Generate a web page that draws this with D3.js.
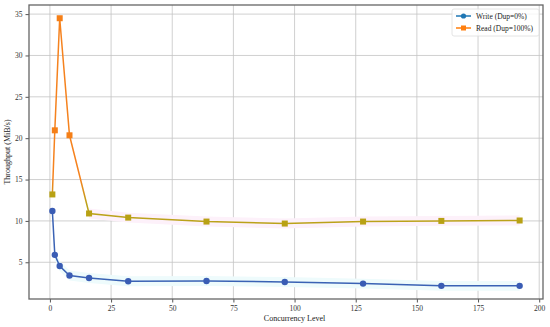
<!DOCTYPE html>
<html>
<head>
<meta charset="utf-8">
<script src="https://cdn.jsdelivr.net/npm/d3@7"></script>
<style>
  body { margin: 0; background: #fff; }
  svg { font-family: "Liberation Serif", "DejaVu Serif", serif; }
</style>
</head>
<body>
<svg id="chart" width="550" height="327"></svg>
<script>
// data
const concurrency = [1, 2, 4, 8, 16, 32, 64, 96, 128, 160, 192];
const writeValues = [11.2, 5.9, 4.55, 3.4, 3.1, 2.7, 2.73, 2.62, 2.42, 2.15, 2.15];
const readValues = [13.2, 20.95, 34.5, 20.35, 10.9, 10.4, 9.92, 9.68, 9.92, 10.0, 10.05];
const xTicks = [0, 25, 50, 75, 100, 125, 150, 175, 200];
const yTicks = [5, 10, 15, 20, 25, 30, 35];
const seriesNames = ['Write (Dup=0%)', 'Read (Dup=100%)'];

const svg = d3.select('#chart');
const margin = { top: 5, right: 7, bottom: 28, left: 29 };
const width = 550, height = 327;

const x = d3.scaleLinear().domain([-8.55, 201.55]).range([margin.left, width - margin.right]);
const y = d3.scaleLinear().domain([0.56, 36.1]).range([height - margin.bottom, margin.top]);

// grid
svg.append('g').selectAll('line').data(xTicks).enter().append('line')
    .attr('x1', d => x(d)).attr('x2', d => x(d))
    .attr('y1', margin.top).attr('y2', height - margin.bottom)
    .attr('stroke', '#c4c4c4').attr('stroke-width', 0.8);
svg.append('g').selectAll('line').data(yTicks).enter().append('line')
    .attr('y1', d => y(d)).attr('y2', d => y(d))
    .attr('x1', margin.left).attr('x2', width - margin.right)
    .attr('stroke', '#c4c4c4').attr('stroke-width', 0.8);

const writeData = concurrency.map((c, i) => ({ x: c, v: writeValues[i] }));
const readData = concurrency.map((c, i) => ({ x: c, v: readValues[i] }));

// faint bands behind the lines (only the flat tails)
const band = d3.area().x(d => x(d.x)).y0(d => y(d.v - 0.6)).y1(d => y(d.v + 0.6));
svg.append('path').datum(readData.slice(4)).attr('d', band).attr('fill', '#fdf1fa');
svg.append('path').datum(writeData.slice(1)).attr('d', band).attr('fill', '#eefbfc');

// read line colour shifts from orange (high) to olive (low)
const defs = svg.append('defs');
const grad = defs.append('linearGradient').attr('id', 'readGrad')
    .attr('gradientUnits', 'userSpaceOnUse')
    .attr('x1', 0).attr('x2', 0).attr('y1', y(15)).attr('y2', y(12));
grad.append('stop').attr('offset', 0).attr('stop-color', '#f5821e');
grad.append('stop').attr('offset', 1).attr('stop-color', '#bba21a');

const line = d3.line().x(d => x(d.x)).y(d => y(d.v));

svg.append('path').datum(writeData).attr('d', line)
    .attr('fill', 'none').attr('stroke', '#3a62b4').attr('stroke-width', 1.5);
svg.append('path').datum(readData).attr('d', line)
    .attr('fill', 'none').attr('stroke', 'url(#readGrad)').attr('stroke-width', 1.5);

svg.append('g').selectAll('circle').data(writeData).enter().append('circle')
    .attr('cx', d => x(d.x)).attr('cy', d => y(d.v)).attr('r', 3.2)
    .attr('fill', '#3a5cb4');
svg.append('g').selectAll('rect').data(readData).enter().append('rect')
    .attr('x', d => x(d.x) - 3).attr('y', d => y(d.v) - 3)
    .attr('width', 6).attr('height', 6)
    .attr('fill', d => d.v > 15 ? '#f57f17' : '#b8a114');

// axes
const xAxis = svg.append('g')
    .attr('transform', `translate(0,${height - margin.bottom})`)
    .call(d3.axisBottom(x).tickValues(xTicks).tickSize(3.5).tickPadding(3));
const yAxis = svg.append('g')
    .attr('transform', `translate(${margin.left},0)`)
    .call(d3.axisLeft(y).tickValues(yTicks).tickSize(3.5).tickPadding(3));
[xAxis, yAxis].forEach(a => {
    a.select('.domain').remove();
    a.selectAll('text').style('font-size', '7.5px').attr('fill', '#333')
        .style('font-family', '"Liberation Serif", serif');
    a.selectAll('line').attr('stroke', '#555');
});

// frame
svg.append('rect')
    .attr('x', margin.left).attr('y', margin.top)
    .attr('width', width - margin.left - margin.right)
    .attr('height', height - margin.top - margin.bottom)
    .attr('fill', 'none').attr('stroke', '#666').attr('stroke-width', 1.3);

// labels
svg.append('text')
    .attr('x', x(100)).attr('y', 321)
    .attr('text-anchor', 'middle')
    .style('font-size', '8px').attr('fill', '#222')
    .text('Concurrency Level');
svg.append('text')
    .attr('transform', `translate(10,${(margin.top + height - margin.bottom) / 2}) rotate(-90)`)
    .attr('text-anchor', 'middle')
    .style('font-size', '8px').attr('fill', '#222')
    .text('Throughput (MiB/s)');

// legend
const legend = svg.append('g').attr('transform', 'translate(452,9)');
legend.append('rect')
    .attr('width', 87).attr('height', 27).attr('rx', 2)
    .attr('fill', '#fff').attr('fill-opacity', 0.8)
    .attr('stroke', '#ddd').attr('stroke-width', 0.8);
const legendColors = ['#1f77b4', '#ff7f0e'];
seriesNames.forEach((name, i) => {
    const g = legend.append('g').attr('transform', `translate(0,${7 + i * 12})`);
    g.append('line').attr('x1', 4).attr('x2', 19).attr('stroke', legendColors[i]).attr('stroke-width', 1.5);
    if (i === 0) {
        g.append('circle').attr('cx', 11.5).attr('r', 2.6).attr('fill', legendColors[i]);
    } else {
        g.append('rect').attr('x', 9).attr('y', -2.5).attr('width', 5).attr('height', 5).attr('fill', legendColors[i]);
    }
    g.append('text').attr('x', 24).attr('y', 2.7)
        .style('font-size', '7.5px').attr('fill', '#222')
        .text(name);
});
</script>
</body>
</html>
